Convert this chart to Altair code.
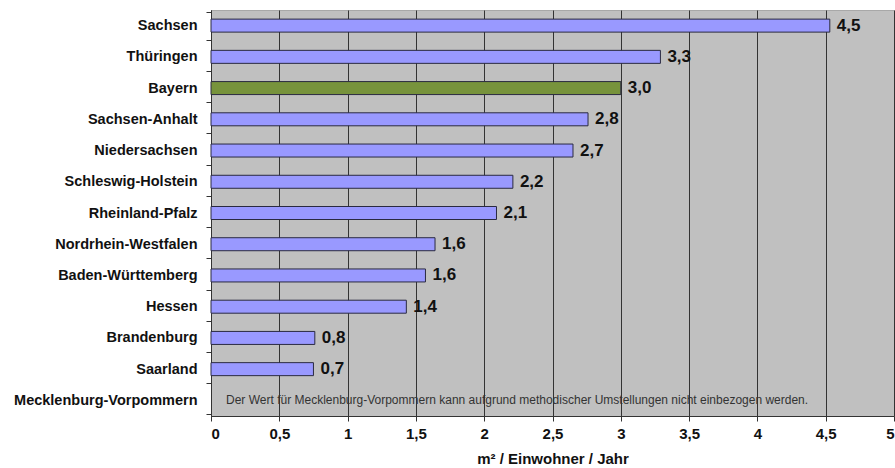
import altair as alt
import pandas as pd

states = ["Sachsen", "Thüringen", "Bayern", "Sachsen-Anhalt", "Niedersachsen",
          "Schleswig-Holstein", "Rheinland-Pfalz", "Nordrhein-Westfalen",
          "Baden-Württemberg", "Hessen", "Brandenburg", "Saarland",
          "Mecklenburg-Vorpommern"]
values = [4.53, 3.29, 3.0, 2.76, 2.65, 2.21, 2.09, 1.64, 1.57, 1.43, 0.76, 0.75, None]
labels = ["4,5", "3,3", "3,0", "2,8", "2,7", "2,2", "2,1", "1,6", "1,6", "1,4", "0,8", "0,7", ""]
highlight_state = "Bayern"
note_text = ("Der Wert für Mecklenburg-Vorpommern  kann aufgrund methodischer "
             "Umstellungen nicht einbezogen werden.")
note_x = [0.11]
x_ticks = [0, 0.5, 1, 1.5, 2, 2.5, 3, 3.5, 4, 4.5, 5]

df = pd.DataFrame({"state": states, "value": values, "label": labels})
df["group"] = ["hl" if s == highlight_state else "normal" for s in states]
bars_df = df[df["value"].notna()]
note_df = pd.DataFrame({"x": note_x, "state": [states[-1]], "text": [note_text]})

FONT = "Liberation Sans"

y_enc = alt.Y("state:N", sort=states, scale=alt.Scale(domain=states),
              axis=alt.Axis(title=None, labelFont=FONT, labelFontSize=14.5,
                            labelFontWeight="bold", labelColor="#111",
                            labelPadding=9, labelLimit=400, tickBand="extent",
                            tickSize=5, tickColor="#333", domainColor="#333",
                            grid=False))
x_enc = alt.X("value:Q", scale=alt.Scale(domain=[0, 5], nice=False),
              axis=alt.Axis(title="m² / Einwohner / Jahr", values=x_ticks,
                            labelExpr="replace(toString(datum.value), '.', ',')",
                            labelFont=FONT, labelFontSize=15, labelFontWeight="bold",
                            labelColor="#111", labelPadding=5, tickSize=5,
                            tickColor="#333", domainColor="#333",
                            grid=True, gridColor="#333", gridWidth=1, gridOpacity=1,
                            titleFont=FONT, titleFontSize=15, titleFontWeight="bold",
                            titleColor="#111", titlePadding=10))

bars = alt.Chart(bars_df).mark_bar(size=13, stroke="#2a2a40", strokeWidth=1).encode(
    x=x_enc, y=y_enc,
    color=alt.Color("group:N", scale=alt.Scale(domain=["normal", "hl"],
                                               range=["#9999ff", "#77933c"]),
                    legend=None),
)

text = alt.Chart(bars_df).mark_text(align="left", baseline="middle", dx=7,
                                    font=FONT, fontSize=17, fontWeight="bold",
                                    color="#111").encode(
    x="value:Q", y=alt.Y("state:N", sort=states), text="label:N")

note = alt.Chart(note_df).mark_text(align="left", baseline="middle", font=FONT,
                                    fontSize=12, color="#333").encode(
    x="x:Q", y=alt.Y("state:N", sort=states), text="text:N")

chart = alt.layer(bars, text, note).properties(
    width=683, height=406,
    autosize=alt.AutoSizeParams(type="none"),
    padding={"left": 211, "top": 10, "right": 1, "bottom": 52},
    background="white",
).configure_view(fill="#c0c0c0", stroke="#a8a8a8", strokeWidth=1)

chart.save("out.html", embed_options={"renderer": "svg", "actions": False})
